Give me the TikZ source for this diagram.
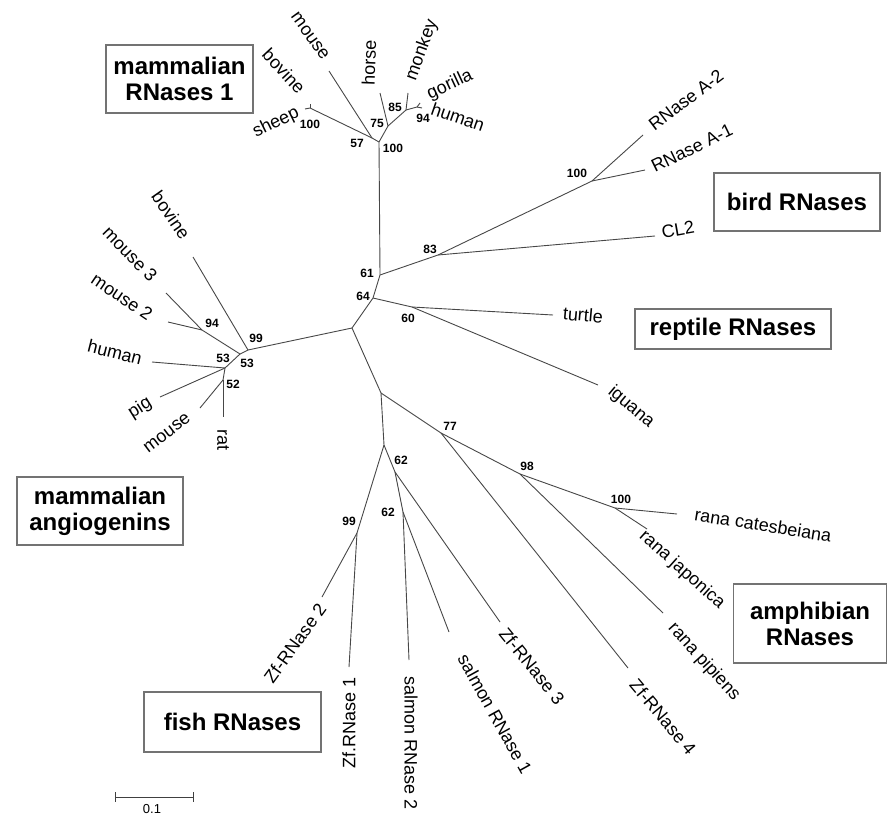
\documentclass[tikz,border=0pt]{standalone}
\usepackage{fontspec}
\setmainfont{Liberation Sans}
\begin{document}
\tikzset{
  br/.style={draw=black!72, line width=0.9pt},
  leaf/.style={font=\fontsize{18}{18}\selectfont, inner sep=0pt},
  bs/.style={font=\bfseries\fontsize{12}{12}\selectfont, inner sep=0pt},
  grp/.style={draw=black!55, line width=1.2pt, font=\bfseries\fontsize{24}{26}\selectfont, align=center, inner sep=0pt},
}
\begin{tikzpicture}[x=1pt,y=-1pt]
\useasboundingbox (0,0) rectangle (888,816);
% ---------- internal nodes and tips ----------
% mammalian RNases 1
\coordinate (R100) at (379,142);
\coordinate (N57) at (372,138);
\coordinate (SB) at (310,108);
\coordinate (tSheep) at (305,109);
\coordinate (tBovM) at (310,104);
\coordinate (tMouseM) at (329,71);
\coordinate (N75) at (388,126);
\coordinate (tHorse) at (380,93);
\coordinate (N85) at (406,110);
\coordinate (tMonkey) at (408,93);
\coordinate (N94) at (417,107);
\coordinate (tGorilla) at (420,103);
\coordinate (tHumanM) at (422,108);
% spine
\coordinate (N61) at (380,275);
\coordinate (N64) at (373,298);
\coordinate (A) at (352,328);
\coordinate (B) at (381,393);
\coordinate (C) at (384,445);
% birds
\coordinate (B83) at (438,255);
\coordinate (B100) at (592,181);
\coordinate (tA2) at (643,135);
\coordinate (tA1) at (645,170);
\coordinate (tCL2) at (655,236);
% reptiles
\coordinate (R60) at (412,307);
\coordinate (tTurtle) at (553,315);
\coordinate (tIguana) at (598,385);
% angiogenins
\coordinate (G99) at (248,350);
\coordinate (tBovA) at (193,257);
\coordinate (G53a) at (240,354);
\coordinate (G94) at (202,330);
\coordinate (tMouse3) at (166,293);
\coordinate (tMouse2) at (168,322);
\coordinate (G53b) at (225,368);
\coordinate (tHumanA) at (152,362);
\coordinate (tPig) at (160,397);
\coordinate (G52) at (223,380);
\coordinate (tMouseA) at (200,408);
\coordinate (tRat) at (223,417);
% amphibians
\coordinate (F77) at (441,433);
\coordinate (F98) at (520,474);
\coordinate (F100) at (615,508);
\coordinate (tCat) at (677,514);
\coordinate (tJap) at (647,529);
\coordinate (tPip) at (663,613);
\coordinate (tZf4) at (628,668);
% fish
\coordinate (F62a) at (395,472);
\coordinate (F62b) at (403,512);
\coordinate (F99) at (357,533);
\coordinate (tZf2) at (322,597);
\coordinate (tZf1) at (349,667);
\coordinate (tZf3) at (500,622);
\coordinate (tSal2) at (409,660);
\coordinate (tSal1) at (449,632);

% ---------- branches ----------
\draw[br] (R100) -- (N57) -- (SB) -- (tSheep);
\draw[br] (SB) -- (tBovM);
\draw[br] (N57) -- (tMouseM);
\draw[br] (R100) -- (N75) -- (tHorse);
\draw[br] (N75) -- (N85) -- (tMonkey);
\draw[br] (N85) -- (N94) -- (tGorilla);
\draw[br] (N94) -- (tHumanM);
\draw[br] (R100) -- (N61) -- (N64) -- (A);
\draw[br] (N61) -- (B83) -- (B100) -- (tA2);
\draw[br] (B100) -- (tA1);
\draw[br] (B83) -- (tCL2);
\draw[br] (N64) -- (R60) -- (tTurtle);
\draw[br] (R60) -- (tIguana);
\draw[br] (A) -- (G99) -- (G53a) -- (G94) -- (tMouse3);
\draw[br] (G94) -- (tMouse2);
\draw[br] (G99) -- (tBovA);
\draw[br] (G53a) -- (G53b) -- (tHumanA);
\draw[br] (G53b) -- (tPig);
\draw[br] (G53b) -- (G52) -- (tMouseA);
\draw[br] (G52) -- (tRat);
\draw[br] (A) -- (B) -- (C);
\draw[br] (B) -- (F77) -- (F98) -- (F100) -- (tJap);
\draw[br] (F100) -- (tCat);
\draw[br] (F98) -- (tPip);
\draw[br] (F77) -- (tZf4);
\draw[br] (C) -- (F62a) -- (F62b) -- (tSal2);
\draw[br] (F62b) -- (tSal1);
\draw[br] (F62a) -- (tZf3);
\draw[br] (C) -- (F99) -- (tZf2);
\draw[br] (F99) -- (tZf1);

% ---------- leaf labels ----------
\node[leaf, rotate=-54] (lMouseM) at (310,36) {mouse};
\node[leaf, rotate=-47] (lBovM) at (284,71) {bovine};
\node[leaf, rotate=26] (lSheep) at (276,123) {sheep};
\node[leaf, rotate=88] (lHorse) at (369,63) {horse};
\node[leaf, rotate=70] (lMonkey) at (422,50) {monkey};
\node[leaf, rotate=25] (lGorilla) at (450,85) {gorilla};
\node[leaf, rotate=-19] (lHumanM) at (458,117) {human};

\node[leaf, rotate=37] (lA2) at (686,100) {RNase A-2};
\node[leaf, rotate=26] (lA1) at (692,148) {RNase A-1};
\node[leaf, rotate=10] (lCL2) at (678,230) {CL2};
\node[leaf, rotate=-5] (lTurtle) at (583,315) {turtle};
\node[leaf, rotate=-40] (lIguana) at (631,407) {iguana};

\node[leaf, rotate=-55] (lBovA) at (171,215) {bovine};
\node[leaf, rotate=-46] (lMouse3) at (130,254) {mouse 3};
\node[leaf, rotate=-34] (lMouse2) at (122,297) {mouse 2};
\node[leaf, rotate=-14] (lHumanA) at (115,352) {human};
\node[leaf, rotate=32] (lPig) at (140,408) {pig};
\node[leaf, rotate=37] (lMouseA) at (167,433) {mouse};
\node[leaf, rotate=-90] (lRat) at (223,440) {rat};

\node[leaf, rotate=-9] (lCat) at (763,525) {rana catesbeiana};
\node[leaf, rotate=-42] (lJap) at (682,570) {rana japonica};
\node[leaf, rotate=-48] (lPip) at (704,662) {rana pipiens};
\node[leaf, rotate=-50] (lZf4) at (663,717) {Zf-RNase 4};
\node[leaf, rotate=-51] (lZf3) at (532,666) {Zf-RNase 3};
\node[leaf, rotate=-61] (lSal1) at (495,714) {salmon RNase 1};
\node[leaf, rotate=-90] (lSal2) at (411,743) {salmon RNase 2};
\node[leaf, rotate=90] (lZf1) at (349,723) {Zf.RNase 1};
\node[leaf, rotate=54] (lZf2) at (295,643) {Zf-RNase 2};

% ---------- bootstrap values ----------
\node[bs] (b1) at (310,124) {100};
\node[bs] (b2) at (357,143) {57};
\node[bs] (b3) at (377,123) {75};
\node[bs] (b4) at (395,107) {85};
\node[bs] (b5) at (423,118) {94};
\node[bs] (b6) at (393,148) {100};
\node[bs] (b7) at (577,173) {100};
\node[bs] (b8) at (430,249) {83};
\node[bs] (b9) at (367,273) {61};
\node[bs] (b10) at (363,296) {64};
\node[bs] (b11) at (408,318) {60};
\node[bs] (b12) at (256,338) {99};
\node[bs] (b13) at (247,363) {53};
\node[bs] (b14) at (223,358) {53};
\node[bs] (b15) at (233,384) {52};
\node[bs] (b16) at (212,323) {94};
\node[bs] (b17) at (450,426) {77};
\node[bs] (b18) at (527,466) {98};
\node[bs] (b19) at (621,499) {100};
\node[bs] (b20) at (401,460) {62};
\node[bs] (b21) at (388,512) {62};
\node[bs] (b22) at (349,521) {99};

% ---------- group boxes ----------
\node[grp, minimum width=147pt, minimum height=68pt] (gMam) at (179.5,79) {mammalian\\RNases 1};
\node[grp, minimum width=166pt, minimum height=58pt] (gBird) at (797,202) {bird RNases};
\node[grp, minimum width=196pt, minimum height=40pt] (gRep) at (733,329) {reptile RNases};
\node[grp, minimum width=166pt, minimum height=68pt] (gAng) at (100,511) {mammalian\\angiogenins};
\node[grp, minimum width=153pt, minimum height=79pt] (gAmp) at (810,623.5) {amphibian\\RNases};
\node[grp, minimum width=177pt, minimum height=60pt] (gFish) at (232.5,722) {fish RNases};

% ---------- scale bar ----------
\coordinate (s1) at (115,797);
\coordinate (s2) at (193,797);
\draw[black!75, line width=1pt] (s1) -- (s2);
\draw[black!75, line width=1pt] (s1) ++(0,-5) -- ++(0,10);
\draw[black!75, line width=1pt] (s2) ++(0,-5) -- ++(0,10);
\node[font=\fontsize{13}{13}\selectfont, inner sep=0pt] (sl) at (152,809) {0.1};
\end{tikzpicture}
\end{document}
